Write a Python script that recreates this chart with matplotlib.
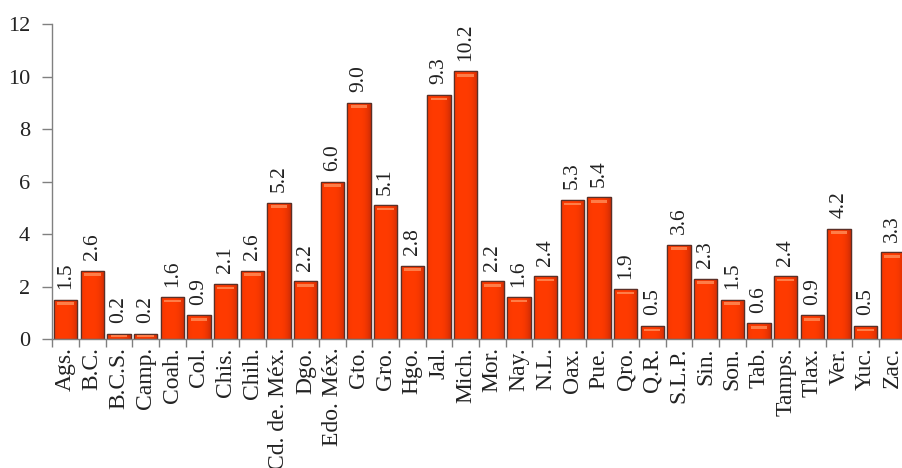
import matplotlib
matplotlib.use("Agg")
import matplotlib.pyplot as plt
import numpy as np

states = ["Ags.", "B.C.", "B.C.S.", "Camp.", "Coah.", "Col.", "Chis.", "Chih.",
          "Cd. de. Méx.", "Dgo.", "Edo. Méx.", "Gto.", "Gro.", "Hgo.", "Jal.", "Mich.",
          "Mor.", "Nay.", "N.L.", "Oax.", "Pue.", "Qro.", "Q.R.", "S.L.P.",
          "Sin.", "Son.", "Tab.", "Tamps.", "Tlax.", "Ver.", "Yuc.", "Zac."]
values = [1.5, 2.6, 0.2, 0.2, 1.6, 0.9, 2.1, 2.6,
          5.2, 2.2, 6.0, 9.0, 5.1, 2.8, 9.3, 10.2,
          2.2, 1.6, 2.4, 5.3, 5.4, 1.9, 0.5, 3.6,
          2.3, 1.5, 0.6, 2.4, 0.9, 4.2, 0.5, 3.3]
yticks = [0, 2, 4, 6, 8, 10, 12]

plt.rcParams['font.family'] = 'Liberation Serif'

fig = plt.figure(figsize=(9.02, 4.68), dpi=100)
ax = fig.add_axes([0.058, 0.2756, 0.946, 0.6731])

x = np.arange(len(states))
w = 0.88

# horizontal gradient image for bars
grad = np.linspace(0, 1, 64)
prof = 1 - (np.abs(grad - 0.4) / 0.6) ** 3
c_dark = np.array([0.80, 0.17, 0.02])
c_bright = np.array([1.0, 0.23, 0.0])
img = c_dark[None, :] + (c_bright - c_dark)[None, :] * prof[:, None]
img = img[None, :, :]

bars = ax.bar(x, values, width=w, color='#FF3D00', edgecolor='#6a3a30', linewidth=0.9, zorder=2)
for b in bars:
    x0, y0 = b.get_x(), b.get_y()
    bw, bh = b.get_width(), b.get_height()
    im = ax.imshow(img, extent=[x0, x0 + bw, y0, y0 + bh], aspect='auto', zorder=2.1, interpolation='bilinear')
    im.set_clip_path(b)
# redraw outline on top
ax.bar(x, values, width=w, color='none', edgecolor='#5a3028', linewidth=0.9, zorder=2.3)
# top highlight
ax.bar(x, [0.1] * len(x), bottom=[v - 0.2 if v > 0.3 else v - 0.13 for v in values],
       width=w * 0.7, color='#FF8A55', alpha=0.85, linewidth=0, zorder=2.4)

for xi, v in zip(x, values):
    ax.annotate(f"{v:.1f}", (xi, v), xytext=(0, 7.5), textcoords='offset points',
                rotation=90, ha='center', va='bottom', fontsize=15.5, color='#222222')

ax.set_xlim(-0.5, len(states) - 0.5)
ax.set_ylim(0, 12)
ax.set_yticks(yticks)
ax.set_yticklabels([str(t) for t in yticks], fontsize=16, color='#222222')
ax.set_xticks(x)
ax.set_xticklabels(states, rotation=90, fontsize=17, color='#222222')
ax.set_xticks(np.arange(-0.5, len(states), 1), minor=True)
ax.tick_params(axis='x', which='major', length=0, pad=6)
ax.tick_params(axis='x', which='minor', length=6, color='#808080', width=1)
ax.tick_params(axis='y', length=7, color='#808080', width=1, pad=9)

for s in ['top', 'right']:
    ax.spines[s].set_visible(False)
for s in ['left', 'bottom']:
    ax.spines[s].set_color('#808080')
    ax.spines[s].set_linewidth(1)

fig.savefig("out.png", dpi=100)
